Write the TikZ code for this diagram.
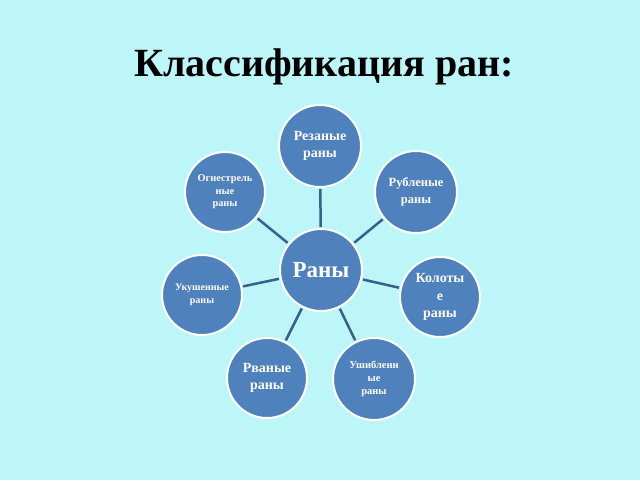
\documentclass[tikz,border=0pt]{standalone}
\usepackage{fontspec}
\setmainfont{Liberation Serif}
\definecolor{bg}{RGB}{188,246,248}
\definecolor{circ}{RGB}{79,129,189}
\definecolor{link}{RGB}{56,96,138}
\begin{document}
\begin{tikzpicture}[x=1pt,y=1pt,
  bubble/.style={circle,draw=white,line width=2pt,fill=circ,minimum size=82pt,inner sep=0pt,
    text=white,font=\bfseries,align=center},
  conn/.style={draw=link,line width=2.5pt}]
\fill[bg] (0,0) rectangle (640,480);
\useasboundingbox (0,0) rectangle (640,480);
\node[font=\bfseries\fontsize{40}{40}\selectfont] (title) at (324,413) {Классификация ран:};
\node[bubble,font=\bfseries\fontsize{23}{24}\selectfont] (c) at (321,210) {Раны};
\node[bubble,font=\bfseries\fontsize{14}{17}\selectfont] (rez) at (320,334) {Резаные\\раны};
\node[bubble,font=\bfseries\fontsize{10.3}{12.5}\selectfont,minimum size=80pt] (og) at (225,288) {Огнестрель\\ные\\раны};
\node[bubble,font=\bfseries\fontsize{12.5}{17}\selectfont] (rub) at (416,288) {Рубленые\\раны};
\node[bubble,font=\bfseries\fontsize{10}{13}\selectfont,minimum size=80pt] (uk) at (202,185) {Укушенные\\раны};
\node[bubble,font=\bfseries\fontsize{14}{17.5}\selectfont,minimum size=80pt] (kol) at (440,183) {Колоты\\е\\раны};
\node[bubble,font=\bfseries\fontsize{14}{17}\selectfont,minimum size=80pt] (rv) at (267,102) {Рваные\\раны};
\node[bubble,font=\bfseries\fontsize{10.5}{13}\selectfont,minimum size=82pt] (ush) at (374,101) {Ушибленн\\ые\\раны};
\foreach \n in {rez,og,rub,uk,kol,rv,ush}{
  \draw[conn,shorten <=1pt,shorten >=1pt] (c) -- (\n);
}
\end{tikzpicture}
\end{document}
